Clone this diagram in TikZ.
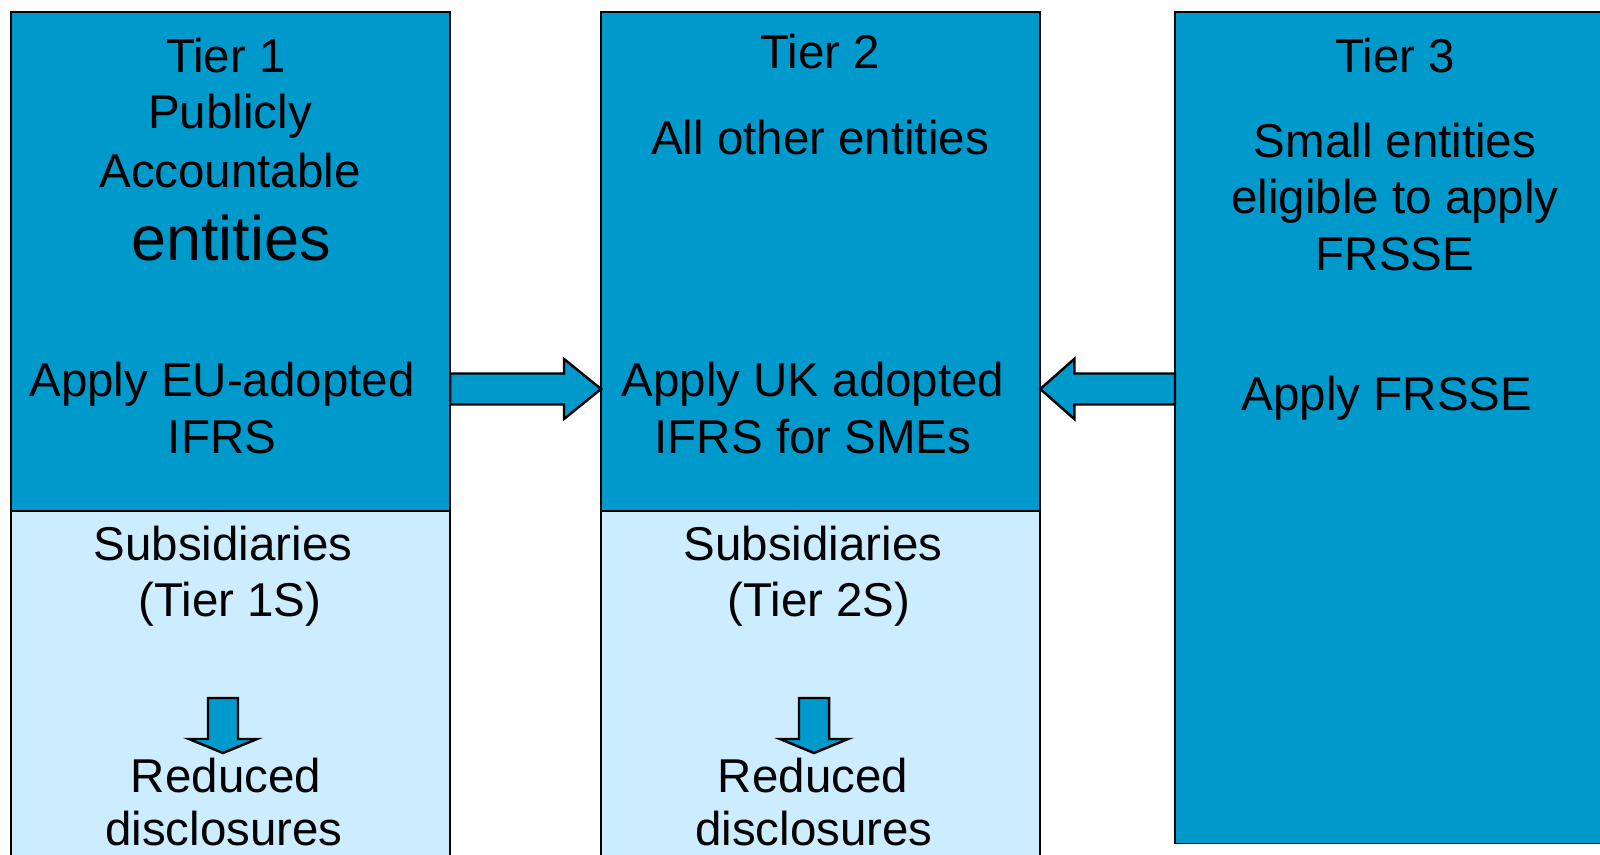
\documentclass[tikz,border=0pt]{standalone}
\usepackage{fontspec}
\setmainfont{Liberation Sans}
\usepackage{tikz}
\definecolor{tierdark}{RGB}{0,153,204}
\definecolor{tierlight}{RGB}{204,236,255}
\usetikzlibrary{calc}
\tikzset{
    tierbox/.style = {draw=black, line width=0.5pt, rectangle, anchor=north west, inner sep=0pt, outer sep=0pt},
    tiertext/.style = {anchor=base, inner sep=0pt, font=\fontsize{13.5}{16}\selectfont},
    bigtext/.style = {anchor=base, inner sep=0pt, font=\fontsize{17.9}{21}\selectfont},
    fatarrow/.style n args = {3}{draw=black, line width=0.7pt, fill=tierdark, line join=miter,
      to path = {
      ($(\tikztostart)!#1!90:(\tikztotarget)$)
      -- ($(\tikztotarget)!#3!(\tikztostart)!#1!90:(\tikztotarget)$)
      -- ($(\tikztotarget)!#3!(\tikztostart)!#2!90:(\tikztotarget)$)
      -- (\tikztotarget)
      -- ($(\tikztotarget)!#3!(\tikztostart)!#2!-90:(\tikztotarget)$)
      -- ($(\tikztotarget)!#3!(\tikztostart)!#1!-90:(\tikztotarget)$)
      -- ($(\tikztostart)!#1!-90:(\tikztotarget)$)
      -- cycle}}
}

\begin{document}
\begin{tikzpicture}[x=0.01cm, y=-0.01cm, line cap=round]
\useasboundingbox (0,0) rectangle (1600,855);
\clip (0,0) rectangle (1600,855);

\node[tierbox, fill=tierdark, minimum width=4.39cm, minimum height=4.99cm] (t1top) at (11,12) {};
\node[tierbox, fill=tierlight, minimum width=4.39cm, minimum height=3.6cm] (t1bot) at (11,511) {};
\node[tierbox, fill=tierdark, minimum width=4.39cm, minimum height=4.99cm] (t2top) at (601,12) {};
\node[tierbox, fill=tierlight, minimum width=4.39cm, minimum height=3.6cm] (t2bot) at (601,511) {};
\node[tierbox, fill=tierdark, minimum width=4.5cm, minimum height=8.31cm] (t3) at (1175,12) {};

\node[tiertext] (t1name) at (226,73) {Tier 1};
\node[tiertext] (t1a) at (230,129) {Publicly};
\node[tiertext] (t1b) at (230,188) {Accountable};
\node[bigtext] (t1c) at (231,261) {entities};
\node[tiertext] (t1d) at (222,397) {Apply EU-adopted};
\node[tiertext] (t1e) at (222,454) {IFRS};
\node[tiertext] (t1f) at (223,560) {Subsidiaries};
\node[tiertext] (t1g) at (230,616) {(Tier 1S)};
\node[tiertext] (t1h) at (226,792) {Reduced};
\node[tiertext] (t1i) at (224,845) {disclosures};

\node[tiertext] (t2name) at (820,69) {Tier 2};
\node[tiertext] (t2a) at (820,155) {All other entities};
\node[tiertext] (t2d) at (813,397) {Apply UK adopted};
\node[tiertext] (t2e) at (813,454) {IFRS for SMEs};
\node[tiertext] (t2f) at (813,560) {Subsidiaries};
\node[tiertext] (t2g) at (819,616) {(Tier 2S)};
\node[tiertext] (t2h) at (813,792) {Reduced};
\node[tiertext] (t2i) at (814,845) {disclosures};

\node[tiertext] (t3name) at (1395,73) {Tier 3};
\node[tiertext] (t3a) at (1395,158) {Small entities};
\node[tiertext] (t3b) at (1395,214) {eligible to apply};
\node[tiertext] (t3c) at (1395,271) {FRSSE};
\node[tiertext] (t3d) at (1387,411) {Apply FRSSE};

\coordinate (arrowrow) at (0,389);
\draw[fatarrow={0.155cm}{0.3cm}{0.37cm}] (t1top.east |- arrowrow) to (t2top.west |- arrowrow);
\draw[fatarrow={0.155cm}{0.3cm}{0.34cm}] (t3.west |- arrowrow) to (t2top.east |- arrowrow);

\coordinate (d1s) at (223,698);
\coordinate (d1e) at (223,753);
\coordinate (d2s) at (814,698);
\coordinate (d2e) at (814,753);
\draw[fatarrow={0.15cm}{0.34cm}{0.14cm}] (d1s) to (d1e);
\draw[fatarrow={0.15cm}{0.34cm}{0.14cm}] (d2s) to (d2e);
\end{tikzpicture}
\end{document}
